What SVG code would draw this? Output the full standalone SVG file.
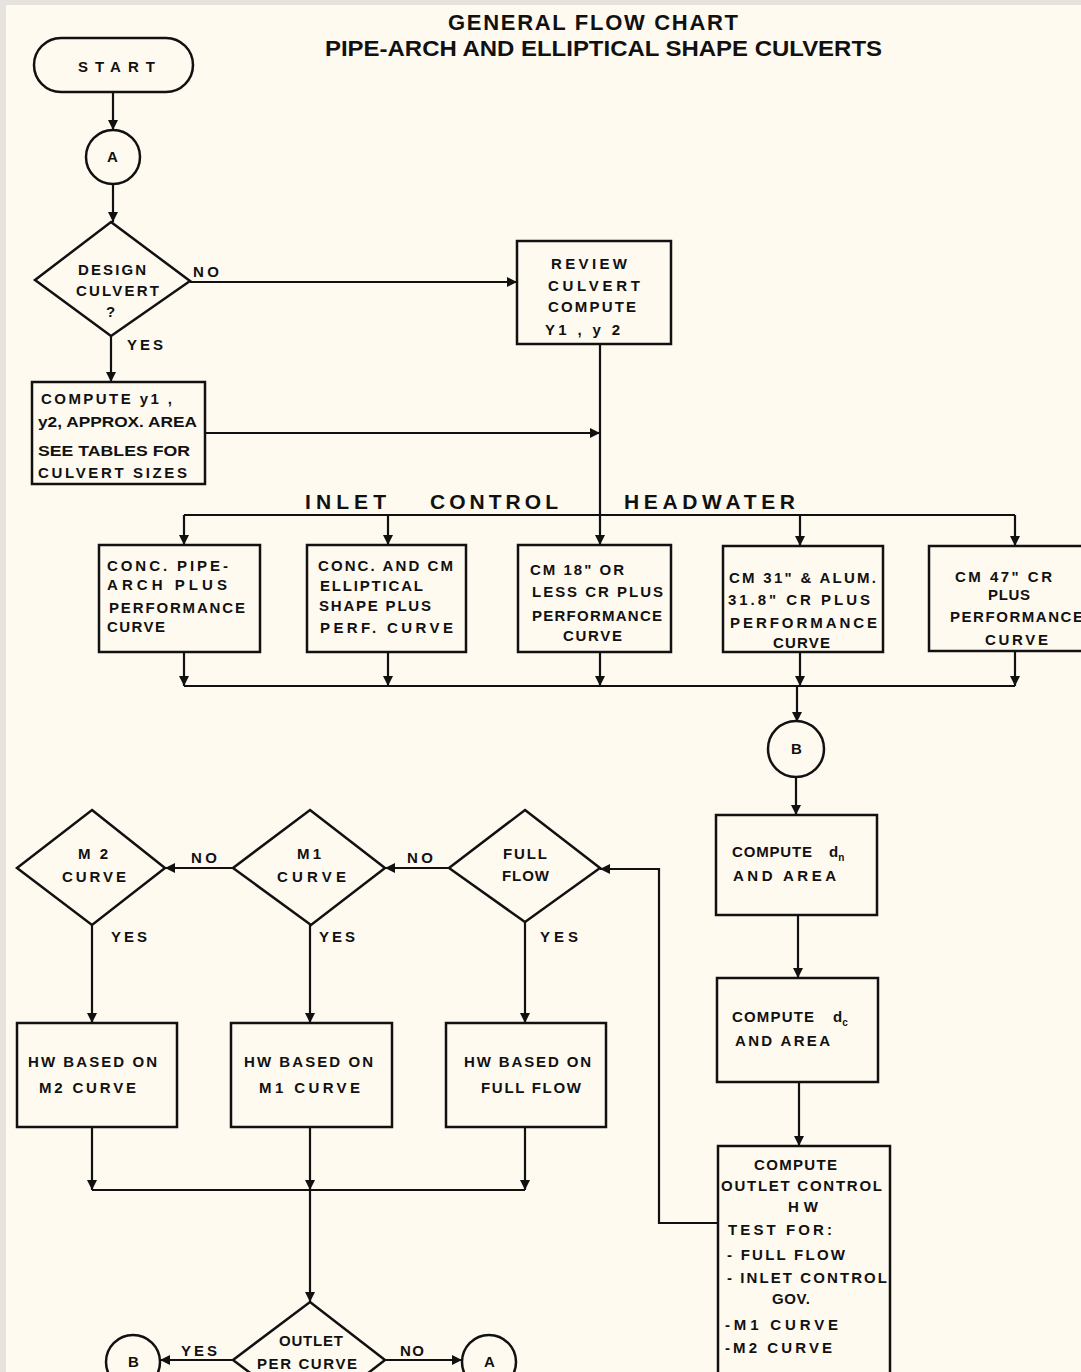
<svg xmlns="http://www.w3.org/2000/svg" width="1081" height="1372" viewBox="0 0 1081 1372">
<defs>
<marker id="ah" viewBox="0 0 10 10" refX="10" refY="5" markerWidth="11" markerHeight="10" markerUnits="userSpaceOnUse" orient="auto">
<path d="M0,0 L10,5 L0,10 z" fill="#111"/>
</marker>
<style>
.bg{fill:#fffaf0}
.shp{fill:none;stroke:#111;stroke-width:2.5}
.ln{fill:none;stroke:#111;stroke-width:2.2}
.ar{fill:none;stroke:#111;stroke-width:2.2;marker-end:url(#ah)}
text{font-family:"Liberation Sans","DejaVu Sans",sans-serif;font-weight:bold;fill:#111;font-size:15px}
.t{font-size:22px}
.h{font-size:21px}
.s{font-size:10px}
</style>
</defs>
<rect class="bg" x="0" y="0" width="1081" height="1372"/>
<rect x="0" y="0" width="1081" height="5" fill="#e6e3df"/>
<rect x="0" y="0" width="6" height="1372" fill="#e6e3df"/>

<g id="title">
<text class="t" x="448" y="30" textLength="290" lengthAdjust="spacing">GENERAL FLOW CHART</text>
<text class="t" x="325" y="56" textLength="557" lengthAdjust="spacingAndGlyphs">PIPE-ARCH AND ELLIPTICAL SHAPE CULVERTS</text>
</g>

<g id="connectors">
<path class="ar" d="M113,92 V130"/>
<path class="ar" d="M113,184 V222"/>
<path class="ar" d="M190,282 H517"/>
<path class="ar" d="M111,336 V382"/>
<path class="ar" d="M205,433 H600"/>
<path class="ar" d="M600,344 V545"/>
<path class="ln" d="M184,515 H1015"/>
<path class="ar" d="M184,515 V545"/>
<path class="ar" d="M388,515 V545"/>
<path class="ar" d="M800,515 V546"/>
<path class="ar" d="M1015,515 V546"/>
<path class="ln" d="M184,686 H1015"/>
<path class="ar" d="M184,652 V686"/>
<path class="ar" d="M388,652 V686"/>
<path class="ar" d="M600,652 V686"/>
<path class="ar" d="M800,652 V686"/>
<path class="ar" d="M1015,651 V686"/>
<path class="ar" d="M797,686 V722"/>
<path class="ar" d="M796,777 V815"/>
<path class="ar" d="M798,915 V978"/>
<path class="ar" d="M799,1082 V1146"/>
<path class="ar" d="M718,1223 H659 V869 H600"/>
<path class="ar" d="M449,868 H385"/>
<path class="ar" d="M233,868 H165"/>
<path class="ar" d="M92,925 V1023"/>
<path class="ar" d="M310,925 V1023"/>
<path class="ar" d="M525,922 V1023"/>
<path class="ln" d="M92,1190 H525"/>
<path class="ar" d="M92,1127 V1190"/>
<path class="ar" d="M310,1127 V1190"/>
<path class="ar" d="M525,1127 V1190"/>
<path class="ar" d="M310,1190 V1302"/>
<path class="ar" d="M233,1360 H160"/>
<path class="ar" d="M385,1360 H462"/>
</g>

<g id="labels">
<text x="193" y="277" textLength="26" lengthAdjust="spacing">NO</text>
<text x="127" y="350" textLength="36" lengthAdjust="spacing">YES</text>
<text class="h" x="305" y="509" textLength="81" lengthAdjust="spacing">INLET</text>
<text class="h" x="430" y="509" textLength="128" lengthAdjust="spacing">CONTROL</text>
<text class="h" x="624" y="509" textLength="171" lengthAdjust="spacing">HEADWATER</text>
<text x="191" y="863" textLength="26" lengthAdjust="spacing">NO</text>
<text x="407" y="863" textLength="26" lengthAdjust="spacing">NO</text>
<text x="111" y="942" textLength="36" lengthAdjust="spacing">YES</text>
<text x="319" y="942" textLength="36" lengthAdjust="spacing">YES</text>
<text x="540" y="942" textLength="38" lengthAdjust="spacing">YES</text>
<text x="181" y="1356" textLength="36" lengthAdjust="spacing">YES</text>
<text x="400" y="1356" textLength="24" lengthAdjust="spacing">NO</text>
</g>

<g id="start">
<rect class="shp" x="34" y="38" width="159" height="54" rx="27"/>
<text x="78" y="72" textLength="77" lengthAdjust="spacing">START</text>
</g>

<g id="circleA1">
<circle class="shp" cx="113" cy="157" r="27"/>
<text x="107" y="162">A</text>
</g>

<g id="designCulvert">
<path class="shp" d="M111,222 L190,281 L111,336 L35,280 Z"/>
<text x="78" y="275" textLength="68" lengthAdjust="spacing">DESIGN</text>
<text x="76" y="296" textLength="83" lengthAdjust="spacing">CULVERT</text>
<text x="106" y="317">?</text>
</g>

<g id="review">
<rect class="shp" x="517" y="241" width="154" height="103"/>
<text x="551" y="269" textLength="76" lengthAdjust="spacing">REVIEW</text>
<text x="548" y="291" textLength="92" lengthAdjust="spacing">CULVERT</text>
<text x="548" y="312" textLength="88" lengthAdjust="spacing">COMPUTE</text>
<text x="545" y="335" textLength="75" lengthAdjust="spacing">Y1 , y 2</text>
</g>

<g id="computeY">
<rect class="shp" x="32" y="382" width="173" height="102"/>
<text x="41" y="404" textLength="131" lengthAdjust="spacing">COMPUTE y1 ,</text>
<text x="38" y="427" textLength="159" lengthAdjust="spacingAndGlyphs">y2, APPROX. AREA</text>
<text x="38" y="456" textLength="152" lengthAdjust="spacingAndGlyphs">SEE TABLES FOR</text>
<text x="38" y="478" textLength="149" lengthAdjust="spacing">CULVERT SIZES</text>
</g>

<g id="box1">
<rect class="shp" x="99" y="545" width="161" height="107"/>
<text x="107" y="571" textLength="121" lengthAdjust="spacing">CONC. PIPE-</text>
<text x="107" y="590" textLength="120" lengthAdjust="spacing">ARCH PLUS</text>
<text x="109" y="613" textLength="136" lengthAdjust="spacing">PERFORMANCE</text>
<text x="107" y="632" textLength="58" lengthAdjust="spacing">CURVE</text>
</g>

<g id="box2">
<rect class="shp" x="307" y="545" width="159" height="107"/>
<text x="318" y="571" textLength="135" lengthAdjust="spacing">CONC. AND CM</text>
<text x="320" y="591" textLength="103" lengthAdjust="spacing">ELLIPTICAL</text>
<text x="319" y="611" textLength="112" lengthAdjust="spacing">SHAPE PLUS</text>
<text x="320" y="633" textLength="133" lengthAdjust="spacing">PERF. CURVE</text>
</g>

<g id="box3">
<rect class="shp" x="518" y="545" width="153" height="107"/>
<text x="530" y="575" textLength="94" lengthAdjust="spacing">CM 18" OR</text>
<text x="532" y="597" textLength="131" lengthAdjust="spacing">LESS CR PLUS</text>
<text x="532" y="621" textLength="130" lengthAdjust="spacing">PERFORMANCE</text>
<text x="563" y="641" textLength="59" lengthAdjust="spacing">CURVE</text>
</g>

<g id="box4">
<rect class="shp" x="723" y="546" width="160" height="106"/>
<text x="729" y="583" textLength="147" lengthAdjust="spacing">CM 31" &amp; ALUM.</text>
<text x="728" y="605" textLength="142" lengthAdjust="spacing">31.8" CR PLUS</text>
<text x="730" y="628" textLength="147" lengthAdjust="spacing">PERFORMANCE</text>
<text x="773" y="648" textLength="57" lengthAdjust="spacing">CURVE</text>
</g>

<g id="box5">
<rect class="shp" x="929" y="546" width="160" height="105"/>
<text x="955" y="582" textLength="97" lengthAdjust="spacing">CM 47" CR</text>
<text x="988" y="600" textLength="42" lengthAdjust="spacing">PLUS</text>
<text x="950" y="622" textLength="133" lengthAdjust="spacing">PERFORMANCE</text>
<text x="985" y="645" textLength="63" lengthAdjust="spacing">CURVE</text>
</g>

<g id="circleB1">
<circle class="shp" cx="796" cy="749" r="28"/>
<text x="791" y="754">B</text>
</g>

<g id="computeDn">
<rect class="shp" x="716" y="815" width="161" height="100"/>
<text x="732" y="857"><tspan textLength="80" lengthAdjust="spacing">COMPUTE</tspan><tspan x="829">d</tspan><tspan class="s" dy="4">n</tspan></text>
<text x="733" y="881" textLength="103" lengthAdjust="spacing">AND AREA</text>
</g>

<g id="computeDc">
<rect class="shp" x="717" y="978" width="161" height="104"/>
<text x="732" y="1022"><tspan textLength="82" lengthAdjust="spacing">COMPUTE</tspan><tspan x="833">d</tspan><tspan class="s" dy="4">c</tspan></text>
<text x="735" y="1046" textLength="95" lengthAdjust="spacing">AND AREA</text>
</g>

<g id="computeOutlet">
<rect class="shp" x="718" y="1146" width="172" height="240"/>
<text x="754" y="1170" textLength="83" lengthAdjust="spacing">COMPUTE</text>
<text x="721" y="1191" textLength="161" lengthAdjust="spacing">OUTLET CONTROL</text>
<text x="788" y="1212" textLength="30" lengthAdjust="spacing">HW</text>
<text x="728" y="1235" textLength="104" lengthAdjust="spacing">TEST FOR:</text>
<text x="727" y="1260" textLength="118" lengthAdjust="spacing">- FULL FLOW</text>
<text x="727" y="1283" textLength="160" lengthAdjust="spacing">- INLET CONTROL</text>
<text x="772" y="1304" textLength="38" lengthAdjust="spacing">GOV.</text>
<text x="725" y="1330" textLength="113" lengthAdjust="spacing">-M1 CURVE</text>
<text x="725" y="1353" textLength="107" lengthAdjust="spacing">-M2 CURVE</text>
</g>

<g id="fullFlow">
<path class="shp" d="M525,810 L600,868 L525,922 L449,868 Z"/>
<text x="503" y="859" textLength="44" lengthAdjust="spacing">FULL</text>
<text x="502" y="881" textLength="47" lengthAdjust="spacing">FLOW</text>
</g>

<g id="m1Curve">
<path class="shp" d="M310,810 L385,868 L311,925 L233,868 Z"/>
<text x="297" y="859" textLength="24" lengthAdjust="spacing">M1</text>
<text x="277" y="882" textLength="69" lengthAdjust="spacing">CURVE</text>
</g>

<g id="m2Curve">
<path class="shp" d="M92,810 L165,868 L92,925 L17,868 Z"/>
<text x="78" y="859" textLength="30" lengthAdjust="spacing">M 2</text>
<text x="62" y="882" textLength="64" lengthAdjust="spacing">CURVE</text>
</g>

<g id="hwM2">
<rect class="shp" x="17" y="1023" width="160" height="104"/>
<text x="28" y="1067" textLength="129" lengthAdjust="spacing">HW BASED ON</text>
<text x="39" y="1093" textLength="97" lengthAdjust="spacing">M2 CURVE</text>
</g>

<g id="hwM1">
<rect class="shp" x="231" y="1023" width="161" height="104"/>
<text x="244" y="1067" textLength="129" lengthAdjust="spacing">HW BASED ON</text>
<text x="259" y="1093" textLength="101" lengthAdjust="spacing">M1 CURVE</text>
</g>

<g id="hwFull">
<rect class="shp" x="446" y="1023" width="160" height="104"/>
<text x="464" y="1067" textLength="127" lengthAdjust="spacing">HW BASED ON</text>
<text x="481" y="1093" textLength="100" lengthAdjust="spacing">FULL FLOW</text>
</g>

<g id="outletPerCurve">
<path class="shp" d="M310,1302 L385,1360 L310,1418 L233,1360 Z"/>
<text x="279" y="1346" textLength="64" lengthAdjust="spacing">OUTLET</text>
<text x="257" y="1369" textLength="100" lengthAdjust="spacing">PER CURVE</text>
</g>

<g id="circleB2">
<circle class="shp" cx="133" cy="1362" r="27"/>
<text x="128" y="1367">B</text>
</g>

<g id="circleA2">
<circle class="shp" cx="489" cy="1362" r="27"/>
<text x="484" y="1367">A</text>
</g>
</svg>
